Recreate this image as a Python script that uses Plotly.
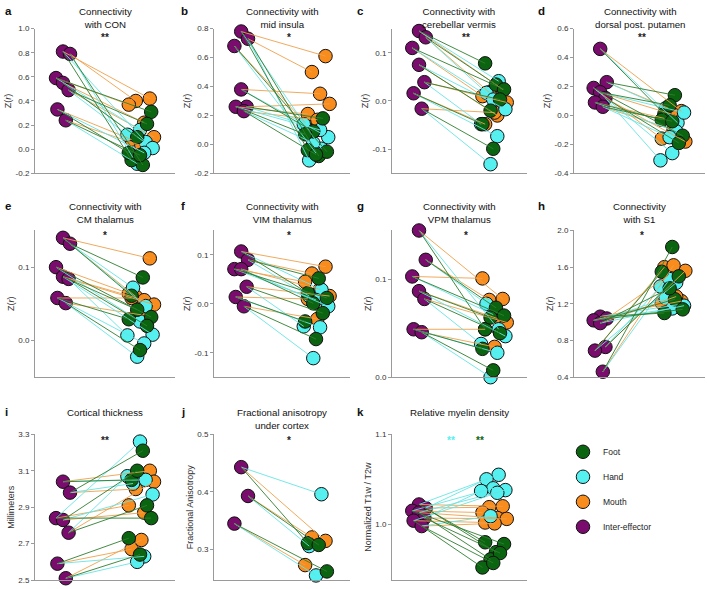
import plotly.graph_objects as go

W, H = 707, 589
FONT = "Liberation Sans, Arial, Helvetica, sans-serif"

FOOT_COLOR = "#0b640f"
HAND_COLOR = "#55f0f0"
MOUTH_COLOR = "#f88c1c"
INTER_COLOR = "#790c6c"
LINE_COLORS = {"Foot": "#2f7d2f", "Hand": "#66e4e4", "Mouth": "#eea04c"}
MARKER_COLORS = {"Foot": FOOT_COLOR, "Hand": HAND_COLOR, "Mouth": MOUTH_COLOR}

# --- data: one value per participant, same order in every list of a panel ---
A_INTER = [0.81, 0.79, 0.59, 0.55, 0.49, 0.33, 0.24]
A_FOOT = [-0.09, -0.13, 0.31, 0.10, 0.21, -0.03, -0.05]
A_HAND = [0.06, -0.07, 0.16, 0.01, 0.12, -0.03, -0.12]
A_MOUTH = [0.42, 0.40, 0.37, 0.22, 0.10, 0.08, 0.03]

B_INTER = [0.78, 0.73, 0.68, 0.38, 0.26, 0.26, 0.23]
B_FOOT = [-0.04, -0.08, -0.05, 0.09, 0.18, 0.07, -0.07]
B_HAND = [-0.03, -0.11, -0.06, 0.05, 0.14, 0.10, 0.01]
B_MOUTH = [0.61, 0.50, 0.15, 0.35, 0.28, 0.21, 0.17]

C_INTER = [0.145, 0.132, 0.110, 0.075, 0.039, 0.016, -0.016]
C_FOOT = [0.078, 0.034, 0.024, -0.020, 0.003, -0.048, -0.099]
C_HAND = [0.041, 0.017, 0.003, -0.017, -0.048, -0.073, -0.131]
C_MOUTH = [0.024, 0.018, 0.010, -0.030, -0.003, -0.048, -0.024]

D_INTER = [0.46, 0.23, 0.19, 0.16, 0.12, 0.09, 0.06]
D_FOOT = [0.01, 0.14, -0.14, 0.07, -0.19, -0.03, -0.04]
D_HAND = [-0.05, 0.05, -0.26, 0.02, -0.31, -0.11, -0.15]
D_MOUTH = [0.03, 0.05, -0.16, 0.00, -0.18, -0.02, -0.10]

E_INTER = [0.140, 0.132, 0.100, 0.087, 0.084, 0.058, 0.051]
E_FOOT = [0.061, 0.086, 0.032, 0.042, 0.020, 0.029, -0.013]
E_HAND = [0.047, 0.072, 0.026, 0.008, 0.007, -0.004, -0.022]
E_MOUTH = [0.112, 0.060, 0.064, 0.055, 0.049, 0.058, 0.035]

F_INTER = [0.107, 0.090, 0.071, 0.071, 0.035, 0.014, -0.005]
F_FOOT = [0.022, 0.052, 0.012, 0.001, -0.019, -0.036, -0.072]
F_HAND = [0.029, 0.016, 0.008, -0.005, -0.046, -0.048, -0.111]
F_MOUTH = [0.076, 0.062, 0.045, 0.030, 0.016, 0.010, -0.031]

G_INTER = [0.150, 0.120, 0.103, 0.088, 0.080, 0.049, 0.046]
G_FOOT = [0.049, 0.071, 0.063, 0.061, 0.045, 0.029, 0.007]
G_HAND = [0.049, 0.075, 0.064, 0.042, 0.034, 0.025, 0.000]
G_MOUTH = [0.080, 0.079, 0.101, 0.060, 0.056, 0.049, 0.031]

H_INTER = [1.06, 1.04, 1.02, 0.99, 0.73, 0.69, 0.46]
H_FOOT = [1.10, 1.25, 1.14, 1.37, 1.50, 1.55, 1.82]
H_HAND = [1.19, 1.26, 1.15, 1.18, 1.39, 1.43, 1.47]
H_MOUTH = [1.23, 1.51, 1.21, 1.28, 1.56, 1.60, 1.62]

I_INTER = [3.04, 2.98, 2.84, 2.83, 2.76, 2.59, 2.51]
I_FOOT = [3.05, 3.21, 2.84, 3.10, 2.91, 2.73, 2.64]
I_HAND = [3.05, 3.03, 3.26, 2.97, 3.07, 2.63, 2.60]
I_MOUTH = [3.10, 3.00, 2.91, 2.87, 3.04, 2.67, 2.72]

J_INTER = [0.443, 0.393, 0.345]
J_FOOT = [0.311, 0.308, 0.262]
J_HAND = [0.396, 0.306, 0.255]
J_MOUTH = [0.315, 0.321, 0.273]

K_INTER = [1.022, 1.018, 1.015, 1.013, 1.007, 1.004, 0.998]
K_FOOT = [0.980, 0.969, 0.978, 0.961, 0.968, 0.952, 0.957]
K_HAND = [1.055, 1.050, 1.040, 1.038, 1.037, 1.035, 1.009]
K_MOUTH = [1.020, 1.019, 1.013, 1.007, 1.006, 1.002, 1.001]

# horizontal scatter so the circles don't sit on top of each other
INTER_X, EFFECTOR_X = 0.2, 0.75
JITTER = {
    "Inter": [0.0, 0.05, -0.05, 0.0, 0.04, -0.04, 0.02],
    "Foot": [-0.06, 0.02, 0.08, -0.02, 0.05, -0.08, 0.0],
    "Hand": [0.04, -0.05, 0.0, 0.09, -0.09, 0.03, -0.02],
    "Mouth": [0.07, -0.03, -0.08, 0.03, 0.1, -0.06, 0.01],
}

PANELS = [
    dict(letter="a", title="Connectivity<br>with CON", ytitle="Z(<i>r</i>)",
         data=(A_INTER, A_FOOT, A_HAND, A_MOUTH), yrange=[-0.2, 1.0],
         ticks=[-0.2, 0.0, 0.2, 0.4, 0.6, 0.8, 1.0], stars=[("**", "#222", 0.5)]),
    dict(letter="b", title="Connectivity with<br>mid insula", ytitle="Z(<i>r</i>)",
         data=(B_INTER, B_FOOT, B_HAND, B_MOUTH), yrange=[-0.2, 0.8],
         ticks=[-0.2, 0.0, 0.2, 0.4, 0.6, 0.8], stars=[("*", "#222", 0.55)]),
    dict(letter="c", title="Connectivity with<br>cerebellar vermis", ytitle="Z(<i>r</i>)",
         data=(C_INTER, C_FOOT, C_HAND, C_MOUTH), yrange=[-0.15, 0.15],
         ticks=[-0.1, 0.0, 0.1], stars=[("**", "#222", 0.55)]),
    dict(letter="d", title="Connectivity with<br>dorsal post. putamen", ytitle="Z(<i>r</i>)",
         data=(D_INTER, D_FOOT, D_HAND, D_MOUTH), yrange=[-0.4, 0.6],
         ticks=[-0.4, -0.2, 0.0, 0.2, 0.4, 0.6], stars=[("**", "#222", 0.52)]),
    dict(letter="e", title="Connectivity with<br>CM thalamus", ytitle="Z(<i>r</i>)",
         data=(E_INTER, E_FOOT, E_HAND, E_MOUTH), yrange=[-0.05, 0.15],
         ticks=[0.0, 0.1], stars=[("*", "#222", 0.5)]),
    dict(letter="f", title="Connectivity with<br>VIM thalamus", ytitle="Z(<i>r</i>)",
         data=(F_INTER, F_FOOT, F_HAND, F_MOUTH), yrange=[-0.15, 0.15],
         ticks=[-0.1, 0.0, 0.1], stars=[("*", "#222", 0.55)]),
    dict(letter="g", title="Connectivity with<br>VPM thalamus", ytitle="Z(<i>r</i>)",
         data=(G_INTER, G_FOOT, G_HAND, G_MOUTH), yrange=[0.0, 0.15],
         ticks=[0.0, 0.1], stars=[("*", "#222", 0.55)]),
    dict(letter="h", title="Connectivity<br>with S1", ytitle="Z(<i>r</i>)",
         data=(H_INTER, H_FOOT, H_HAND, H_MOUTH), yrange=[0.4, 2.0],
         ticks=[0.4, 0.8, 1.2, 1.6, 2.0], stars=[("*", "#222", 0.52)]),
    dict(letter="i", title="Cortical thickness", ytitle="Millimeters",
         data=(I_INTER, I_FOOT, I_HAND, I_MOUTH), yrange=[2.5, 3.3],
         ticks=[2.5, 2.7, 2.9, 3.1, 3.3], stars=[("**", "#222", 0.5)]),
    dict(letter="j", title="Fractional anisotropy<br>under cortex", ytitle="Fractional Anisotropy",
         data=(J_INTER, J_FOOT, J_HAND, J_MOUTH), yrange=[0.247, 0.5],
         ticks=[0.3, 0.4, 0.5], stars=[("*", "#222", 0.55)]),
    dict(letter="k", title="Relative myelin density", ytitle="Normalized T1w / T2w",
         data=(K_INTER, K_FOOT, K_HAND, K_MOUTH), yrange=[0.938, 1.1],
         ticks=[1.0, 1.1], stars=[("**", HAND_COLOR, 0.44), ("**", FOOT_COLOR, 0.65)]),
]

# pixel boxes of the plot areas
COL_X = [(35, 175), (214, 350), (392, 527), (574, 705)]
ROW_Y = [(25, 172), (230, 379), (437, 585)]
LETTER_X = [3, 179, 355, 536]
TITLE_TOP = [0, 198, 407]
STAR_Y = [34, 235, 443]

fig = go.Figure()
layout = {}
annotations = []

for n, p in enumerate(PANELS, start=1):
    row, col = divmod(n - 1, 4)
    xs = "" if n == 1 else str(n)
    xa, ya = f"x{xs}", f"y{xs}"
    x0, x1 = COL_X[col]
    y0, y1 = ROW_Y[row]
    inter, foot, hand, mouth = p["data"]
    groups = {"Foot": foot, "Hand": hand, "Mouth": mouth}
    k = len(inter)
    ix = [INTER_X + j for j in JITTER["Inter"][:k]]
    gx = {g: [EFFECTOR_X + j for j in JITTER[g][:k]] for g in groups}

    for g in ["Mouth", "Hand", "Foot"]:
        fig.add_trace(go.Scatter(
            x=gx[g], y=groups[g], mode="markers", name=g, xaxis=xa, yaxis=ya,
            marker=dict(size=13.5, color=MARKER_COLORS[g], line=dict(color="#111", width=1)),
            showlegend=(n == 1), legendrank={"Foot": 1, "Hand": 2, "Mouth": 3}[g],
            legendgroup=g, cliponaxis=False,
        ))
    fig.add_trace(go.Scatter(
        x=ix, y=inter, mode="markers", name="Inter-effector", xaxis=xa, yaxis=ya,
        marker=dict(size=13.5, color=INTER_COLOR, line=dict(color="#111", width=1)),
        showlegend=(n == 1), legendrank=4, legendgroup="Inter", cliponaxis=False,
    ))
    for g in ["Mouth", "Hand", "Foot"]:
        lx, ly = [], []
        for s in range(k):
            lx += [ix[s], gx[g][s], None]
            ly += [inter[s], groups[g][s], None]
        fig.add_trace(go.Scatter(
            x=lx, y=ly, mode="lines", xaxis=xa, yaxis=ya, showlegend=False,
            line=dict(color=LINE_COLORS[g], width=0.9), hoverinfo="skip",
            cliponaxis=False,
        ))

    key = "" if n == 1 else str(n)
    layout[f"xaxis{key}"] = dict(
        domain=[x0 / W, x1 / W], anchor=ya, range=[0, 1], showline=True,
        linecolor="#9a9a9a", linewidth=1, showticklabels=False, ticks="",
        showgrid=False, zeroline=False, fixedrange=True,
    )
    layout[f"yaxis{key}"] = dict(
        domain=[1 - y1 / H, 1 - y0 / H], anchor=xa, range=p["yrange"], showline=True,
        linecolor="#9a9a9a", linewidth=1, ticks="outside", ticklen=3, tickcolor="#9a9a9a",
        tickvals=p["ticks"], ticktext=[f"{v:.1f}" for v in p["ticks"]],
        tickfont=dict(size=8, color="#333"), showgrid=False, zeroline=False,
        title=dict(text=p["ytitle"], font=dict(size=9, color="#333"), standoff=2),
    )

    cx = (x0 + x1) / 2 / W
    annotations.append(dict(
        text=p["title"], x=cx, y=1 - TITLE_TOP[row] / H, xref="paper", yref="paper",
        xanchor="center", yanchor="top", showarrow=False,
        font=dict(size=9.7, color="#111"),
    ))
    annotations.append(dict(
        text=f"<b>{p['letter']}</b>", x=LETTER_X[col] / W, y=1 - (TITLE_TOP[row] + 7) / H,
        xref="paper", yref="paper", xanchor="left", yanchor="middle", showarrow=False,
        font=dict(size=11.5, color="#111"),
    ))
    for txt, colr, fx in p["stars"]:
        annotations.append(dict(
            text=f"<b>{txt}</b>", x=fx, y=1 - STAR_Y[row] / H, xref=f"{xa} domain",
            yref="paper", xanchor="center", yanchor="middle", showarrow=False,
            font=dict(size=10, color=colr),
        ))

fig.update_layout(
    **layout,
    annotations=annotations,
    width=W, height=H,
    margin=dict(l=0, r=0, t=0, b=0),
    paper_bgcolor="white", plot_bgcolor="white",
    font=dict(family=FONT, color="#222"),
    showlegend=True,
    legend=dict(
        x=563 / W, y=1 - 440 / H, xanchor="left", yanchor="top",
        font=dict(size=8.5, color="#222"), tracegroupgap=6, bgcolor="rgba(0,0,0,0)",
        itemclick=False,
    ),
)

# page body has an 8px default margin; drop it so the figure sits at the window corner
fig.write_html(
    "out.html",
    config={"displayModeBar": False},
    post_script="document.body.style.margin = '0px';",
)
